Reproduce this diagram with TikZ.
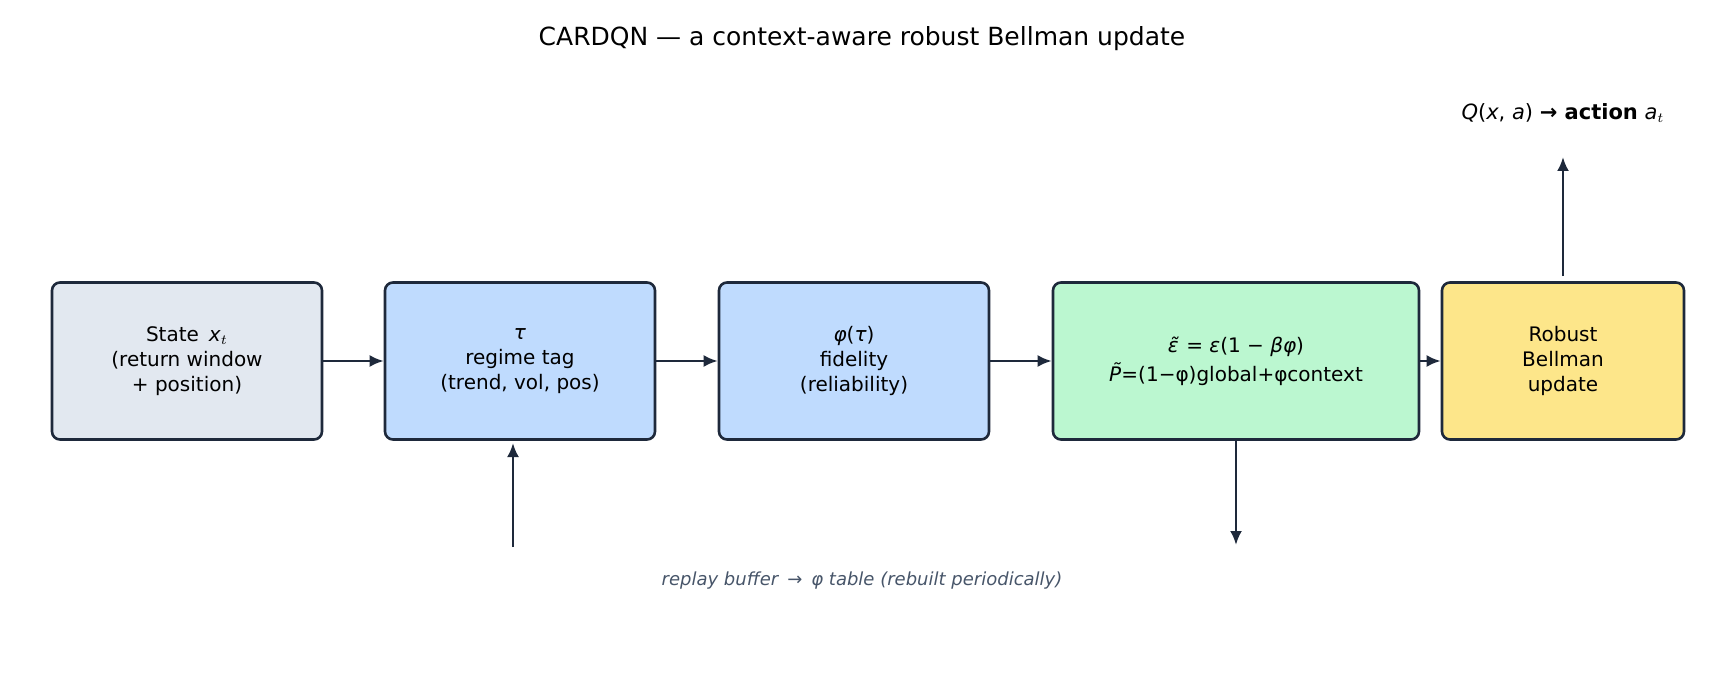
\documentclass[tikz,border=0pt]{standalone}
\usepackage{fontspec}
\setmainfont{DejaVu Sans}
\usetikzlibrary{arrows.meta}
\definecolor{edge}{HTML}{1E293B}
\definecolor{cgray}{HTML}{E2E8F0}
\definecolor{cblue}{HTML}{BFDBFE}
\definecolor{cgreen}{HTML}{BBF7D0}
\definecolor{cyellow}{HTML}{FDE68A}
\definecolor{ccap}{HTML}{475569}
\begin{document}
\begin{tikzpicture}[x=0.5pt,y=-0.5pt,
  box/.style={draw=edge,line width=1.3pt,rounded corners=4pt,inner sep=0pt,align=center,font=\fontsize{10}{12.5}\selectfont},
  arr/.style={draw=edge,line width=1.3pt,-{Latex[length=7pt,width=6pt]}}]
\useasboundingbox (0,0) rectangle (1725,690);
\node[font=\fontsize{12.5}{15}\selectfont] (title) at (862,39) {CARDQN — a context-aware robust Bellman update};
\node[box,fill=cgray,minimum width=135pt,minimum height=78.5pt] (s) at (187,361) {State\enspace\textit{x}$_{t}$\\(return window\\+ position)};
\node[box,fill=cblue,minimum width=135pt,minimum height=78.5pt] (tau) at (520,361) {\textit{τ}\\regime tag\\(trend, vol, pos)};
\node[box,fill=cblue,minimum width=135pt,minimum height=78.5pt] (phi) at (854,361) {\textit{φ}(\textit{τ})\\fidelity\\(reliability)};
\node[box,fill=cgreen,minimum width=183pt,minimum height=78.5pt] (eps) at (1236,361) {\textit{\~{ε}} = \textit{ε}(1 − \textit{βφ})\\[2pt]\textit{\~{P}}=(1−φ)global+φcontext};
\node[box,fill=cyellow,minimum width=121pt,minimum height=78.5pt] (rb) at (1563,361) {Robust\\Bellman\\update};
\node[font=\fontsize{10.5}{12}\selectfont] (q) at (1563,113) {\textit{Q}(\textit{x}, \textit{a}) \textbf{→ action} \textit{a}$_{t}$};
\node[font=\itshape\fontsize{9}{11}\selectfont,text=ccap] (cap) at (862,581) {replay buffer\enspace→\enspace φ table (rebuilt periodically)};
\coordinate (c1) at (513,547);
\coordinate (c2) at (1236,545);
\coordinate (c3) at (1563,276);
\coordinate (c4) at (1563,157);
\draw[arr] (s) -- (tau);
\draw[arr] (tau) -- (phi);
\draw[arr] (phi) -- (eps);
\draw[arr] (eps) -- (rb);
\draw[arr] (c1) -- (513,443);
\draw[arr] (eps.south) -- (c2);
\draw[arr] (c3) -- (c4);
\end{tikzpicture}
\end{document}
